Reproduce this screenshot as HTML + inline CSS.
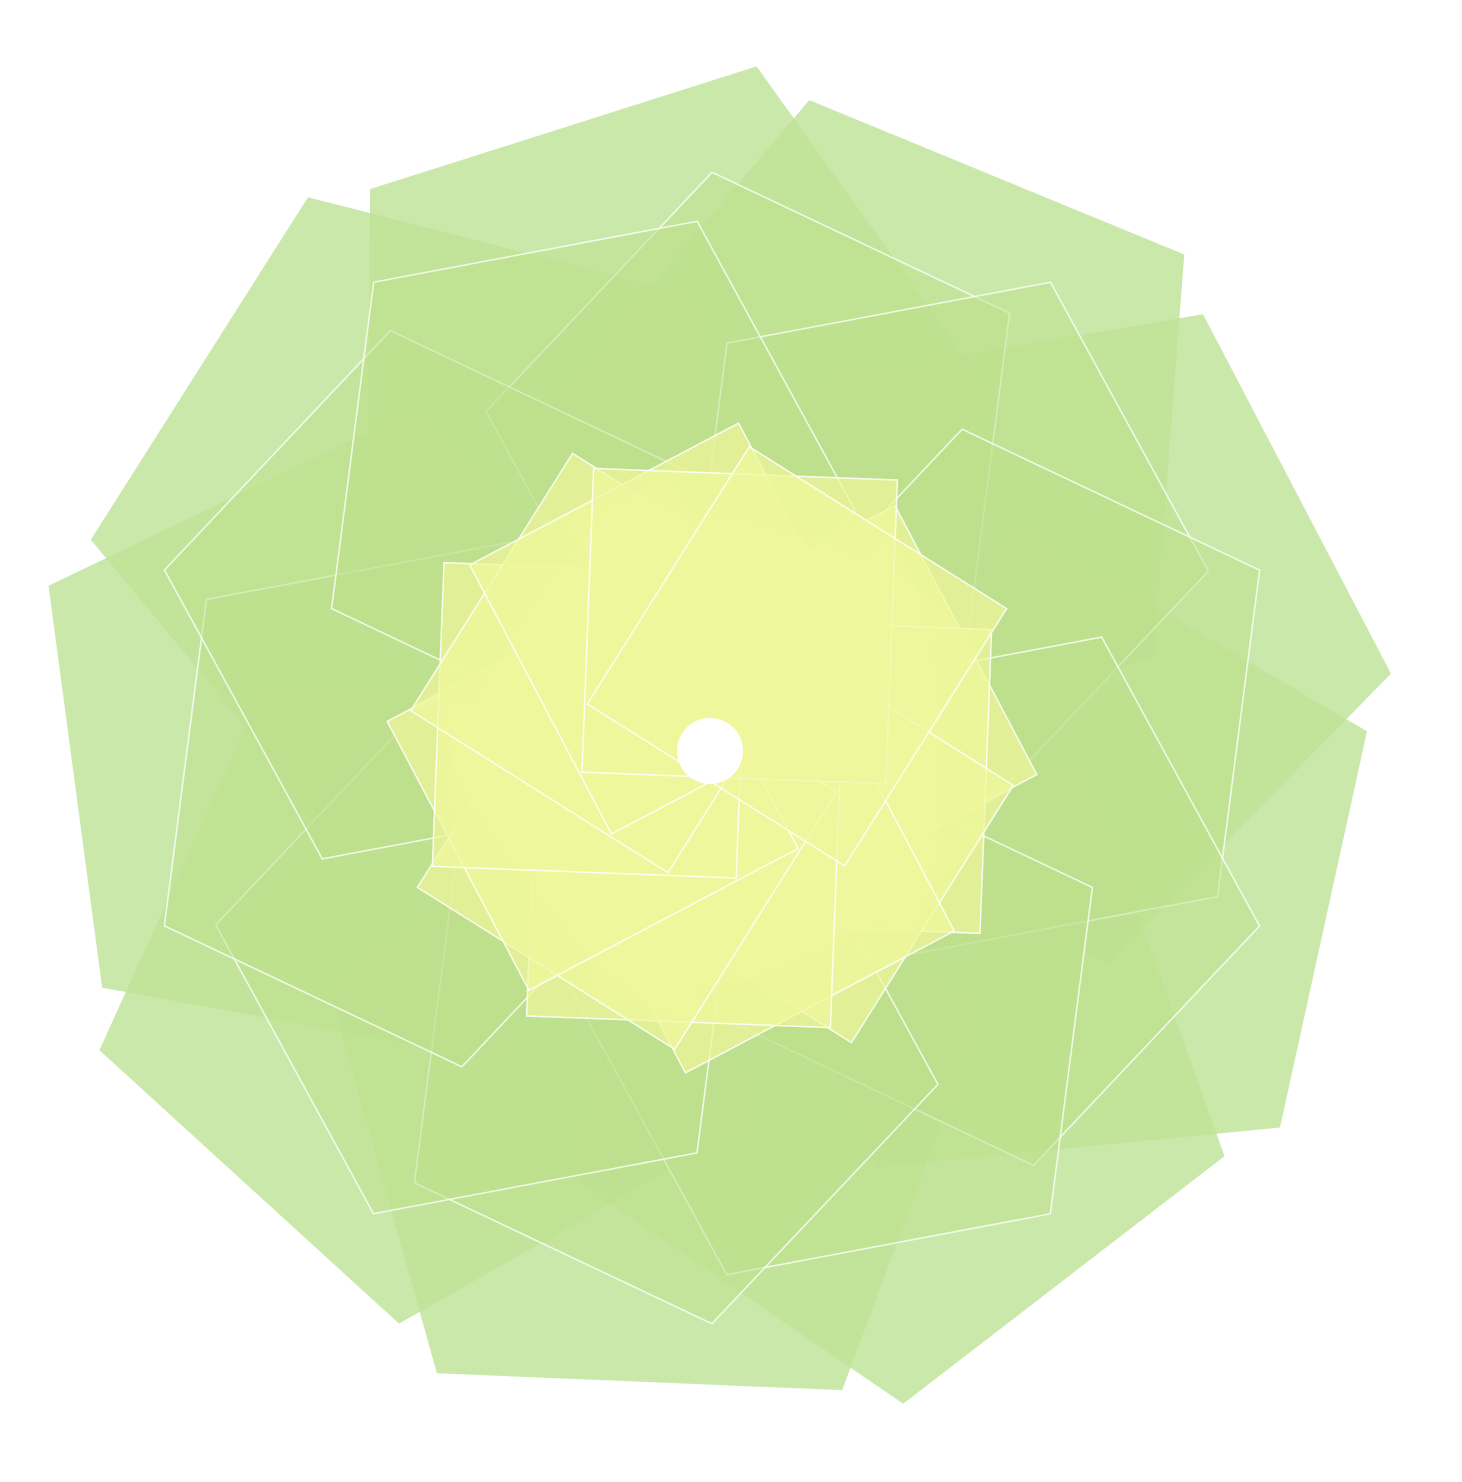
<!DOCTYPE html>
<html><head><meta charset="utf-8"><style>
html,body{margin:0;padding:0;background:#fff;}
svg{display:block;}
</style></head>
<body>
<svg id="chart" width="1462" height="1482" viewBox="0 0 1462 1482" xmlns="http://www.w3.org/2000/svg"></svg>
<script>
// data
const outerValues = [345,345,345,345,345,345,345,345,345];
const midValues = [280,280,280,280,280,280,280,280,280,280];
const innerValues = [215,215,215,215,215,215,215,215,215,215,215,215];
const ellipseValues = [140,140,140,140,140];

const cx = 712, cy = 748;
const svg = document.getElementById('chart');
const NS = 'http://www.w3.org/2000/svg';

function polyPoints(x, y, r, sides, rot){
  const p=[];
  for(let i=0;i<sides;i++){
    const a = rot + i*2*Math.PI/sides;
    p.push((x+r*Math.cos(a)).toFixed(1)+','+(y+r*Math.sin(a)).toFixed(1));
  }
  return p.join(' ');
}
function ring(values, dist, sides, rotOff, fill, stroke, name, startAng){
  const g=document.createElementNS(NS,'g');
  
  
  svg.appendChild(g);
  values.forEach((v,i)=>{
    const a = startAng + i*2*Math.PI/values.length;
    const x = cx + dist*Math.cos(a), y = cy + dist*Math.sin(a);
    const el=document.createElementNS(NS,'polygon');
    el.setAttribute('points', polyPoints(x,y,v,sides,a+rotOff));
    el.setAttribute('fill', fill);
    el.setAttribute('stroke', stroke);
    el.setAttribute('stroke-width', '1.5');
    
    
    g.appendChild(el);
  });
}
ring(outerValues, 360, 5, 0.5, 'rgba(190,226,150,0.8)', 'none', 'outer-pentagon', -1.75);
ring(midValues, 305, 5, 0.9, 'rgba(190,224,140,0.5)', 'rgba(255,255,255,0.8)', 'mid-pentagon', -1.4);
// ellipses
const eg=document.createElementNS(NS,'g');


svg.appendChild(eg);
ellipseValues.forEach((v,i)=>{
  const a = -1.3 + i*2*Math.PI/ellipseValues.length;
  const x = cx + 180*Math.cos(a), y = cy + 180*Math.sin(a);
  const el=document.createElementNS(NS,'ellipse');
  el.setAttribute('cx',x.toFixed(1)); el.setAttribute('cy',y.toFixed(1));
  el.setAttribute('rx',v*1.4); el.setAttribute('ry',v*0.35);
  el.setAttribute('transform','rotate('+((a+Math.PI/2)*180/Math.PI).toFixed(1)+' '+x.toFixed(1)+' '+y.toFixed(1)+')');
  el.setAttribute('fill','rgba(236,244,150,0.85)');
  
  
  eg.appendChild(el);
});
ring(innerValues, 125, 4, 0.6, 'rgba(240,246,155,0.7)', 'rgba(255,255,255,0.85)', 'inner-square', -0.3);
const c=document.createElementNS(NS,'circle');
c.setAttribute('cx',cx-2); c.setAttribute('cy',cy+3); c.setAttribute('r',33); c.setAttribute('fill','#fff');


svg.appendChild(c);
</script>
</body></html>
